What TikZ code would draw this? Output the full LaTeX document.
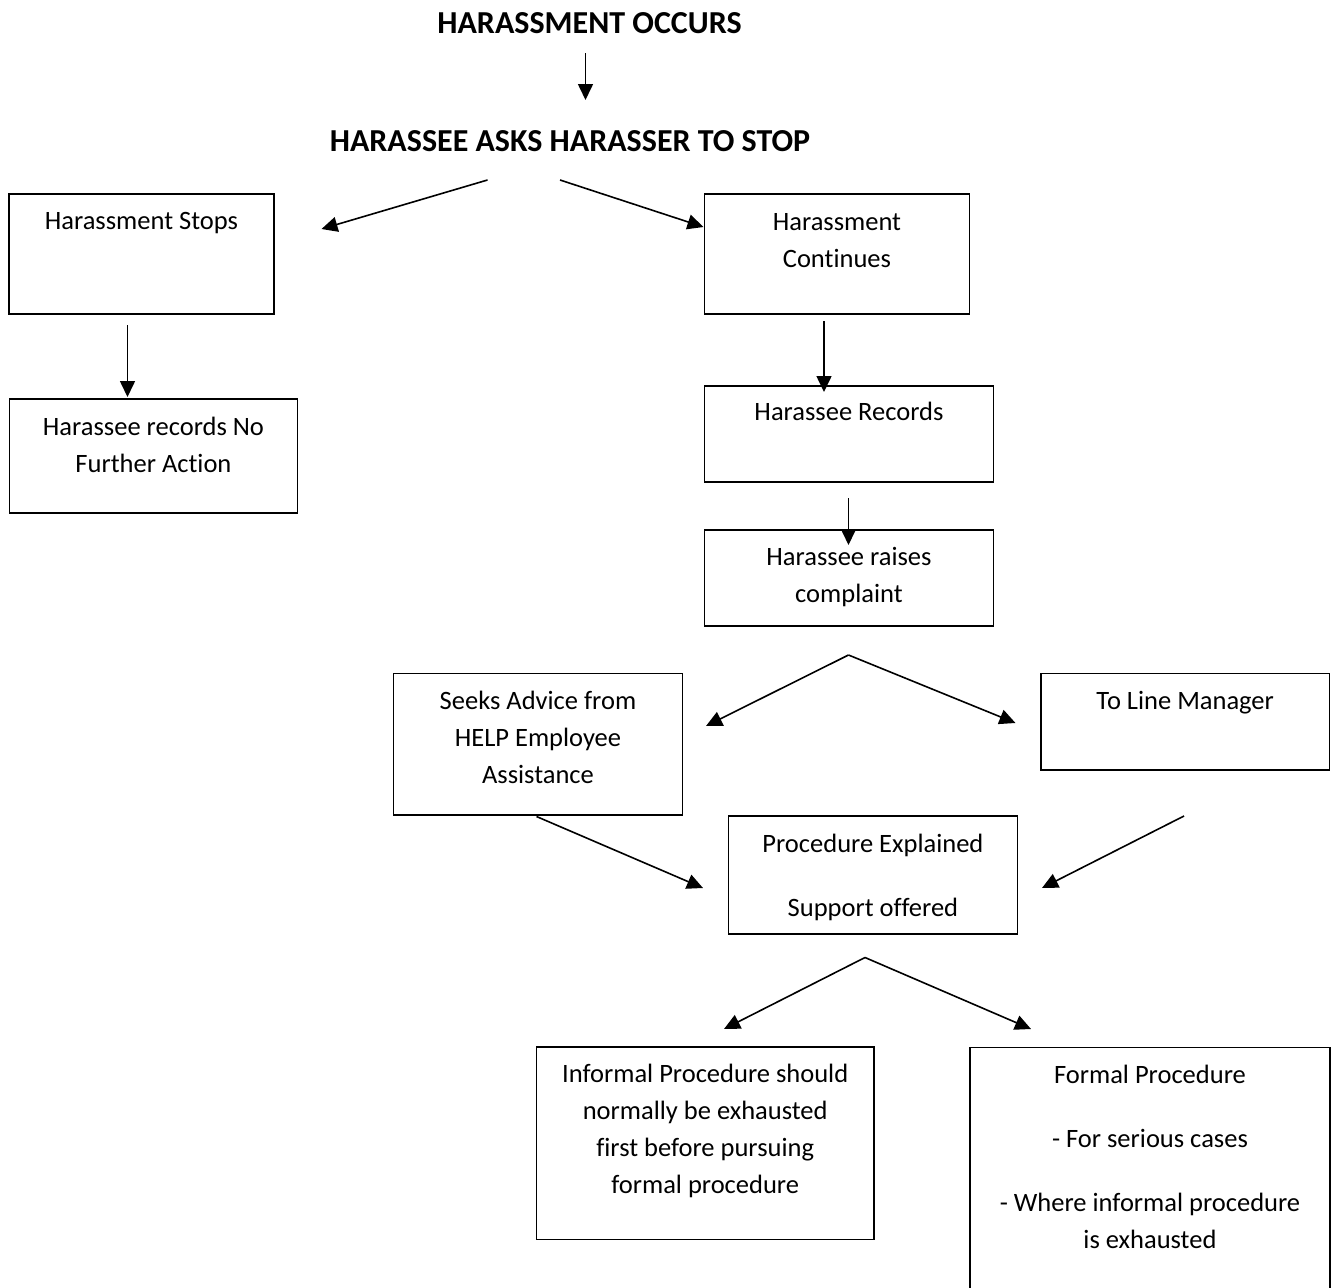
\documentclass[tikz,border=0pt]{standalone}
\usepackage{fontspec}
\setmainfont{Carlito}[Ligatures=NoCommon]
\usetikzlibrary{arrows.meta}
\newcommand\boxtxt[4]{\parbox[c][#2][t]{#1}{\centering\fontsize{26.5pt}{37pt}\selectfont\rule{0pt}{#3}#4\par}}
\begin{document}
\begin{tikzpicture}[x=1pt,y=-1pt,
  flowbox/.style={draw, line width=1.9pt, inner sep=0pt, anchor=north west},
  titletxt/.style={anchor=base, inner sep=0pt, font=\fontsize{32pt}{37pt}\selectfont\bfseries},
  conn/.style={line width=1.6pt, -{Triangle[length=16pt,width=15pt]}}]
\useasboundingbox (0,0) rectangle (1334,1288);

% titles
\node[titletxt] (t1) at (589.5,33) {HARASSMENT OCCURS};
\node[titletxt] (t2) at (570,151.5) {HARASSEE ASKS HARASSER TO STOP};

% boxes
\node[flowbox] (hs) at (8,193) {\boxtxt{265pt}{120pt}{35.5pt}{Harassment Stops}};
\node[flowbox] (hc) at (703.5,193) {\boxtxt{265pt}{120pt}{36.5pt}{Harassment\\Continues}};
\node[flowbox] (nfa) at (8.5,398) {\boxtxt{288pt}{114pt}{37pt}{Harassee records No\\Further Action}};
\node[flowbox] (hr) at (703.5,385) {\boxtxt{289pt}{96pt}{34.5pt}{Harassee Records}};
\node[flowbox] (hrc) at (703.5,529) {\boxtxt{289pt}{96pt}{36pt}{Harassee raises\\complaint}};
\node[flowbox] (sa) at (392.5,672.5) {\boxtxt{289pt}{141.5pt}{36pt}{Seeks Advice from\\HELP Employee\\Assistance}};
\node[flowbox] (tlm) at (1040,672.5) {\boxtxt{288.5pt}{96.5pt}{36pt}{To Line Manager}};
\node[flowbox] (pe) at (727.5,815) {\boxtxt{289pt}{118pt}{37pt}{Procedure Explained\\[27pt]Support offered}};
\node[flowbox] (inf) at (535.5,1046) {\boxtxt{337.5pt}{192.5pt}{36pt}{Informal Procedure should\\normally be exhausted\\first before pursuing\\formal procedure}};
\node[flowbox] (fp) at (969,1046.5) {\boxtxt{360pt}{270pt}{36pt}{Formal Procedure\\[27pt]- For serious cases\\[27pt]- Where informal procedure\\is exhausted}};

% connector end points
\coordinate (a1s) at (585.5,53);   \coordinate (a1e) at (585.5,100);
\coordinate (a2s) at (487.5,180);  \coordinate (a2e) at (321.5,229);
\coordinate (a3s) at (560,180);    \coordinate (a3e) at (703.5,227);
\coordinate (a4s) at (127.5,325);  \coordinate (a4e) at (127.5,397);
\coordinate (a5s) at (824,321);    \coordinate (a5e) at (824,392);
\coordinate (a6s) at (848.5,498);  \coordinate (a6e) at (848.5,545);
\coordinate (ap1) at (848.5,655);
\coordinate (a7e) at (706,726);    \coordinate (a8e) at (1015.5,723);
\coordinate (a9s) at (536.5,816.5); \coordinate (a9e) at (703,888);
\coordinate (a10s) at (1184,816);  \coordinate (a10e) at (1042,888);
\coordinate (ap2) at (865,957.5);
\coordinate (a11e) at (724,1029);  \coordinate (a12e) at (1031,1029);

% connectors
\draw[conn] (a1s) -- (a1e);
\draw[conn] (a2s) -- (a2e);
\draw[conn] (a3s) -- (a3e);
\draw[conn] (a4s) -- (a4e);
\draw[conn] (a5s) -- (a5e);
\draw[conn] (a6s) -- (a6e);
\draw[conn] (ap1) -- (a7e);
\draw[conn] (ap1) -- (a8e);
\draw[conn] (a9s) -- (a9e);
\draw[conn] (a10s) -- (a10e);
\draw[conn] (ap2) -- (a11e);
\draw[conn] (ap2) -- (a12e);
\end{tikzpicture}
\end{document}
